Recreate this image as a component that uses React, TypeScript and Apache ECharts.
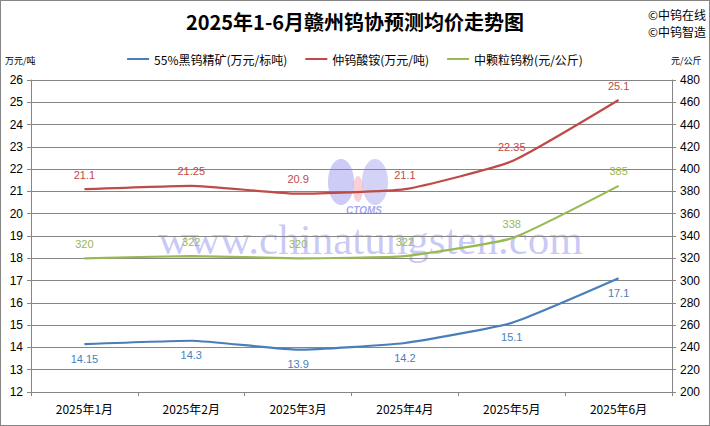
import React, { useEffect, useRef } from "react";
import * as echarts from "echarts";

const categories = ["2025年1月", "2025年2月", "2025年3月", "2025年4月", "2025年5月", "2025年6月"];
const concentrate = [14.15, 14.3, 13.9, 14.2, 15.1, 17.1];
const apt = [21.1, 21.25, 20.9, 21.1, 22.35, 25.1];
const powder = [320, 322, 320, 322, 338, 385];
const seriesNames = ["55%黑钨精矿(万元/标吨)", "仲钨酸铵(万元/吨)", "中颗粒钨粉(元/公斤)"];
const colors = ["#4A7EBB", "#BE4B48", "#98B954"];

const FONT = "'Liberation Sans', 'Noto Sans CJK SC', sans-serif";
const CJK = "'Noto Sans CJK SC', sans-serif";

export default function App() {
  const ref = useRef<HTMLDivElement>(null);
  useEffect(() => {
    if (!ref.current) return;
    const chart = echarts.init(ref.current, undefined, { renderer: "svg" });
    const labelStyle = (c: string, pos: string) => ({
      show: true,
      position: pos,
      distance: 9,
      color: c,
      fontSize: 11,
      fontFamily: FONT,
    });
    const mkSeries = (i: number, data: number[], axis: number, pos: string) => ({
      name: seriesNames[i],
      type: "line",
      data,
      yAxisIndex: axis,
      smooth: 0.15,
      symbol: "circle",
      symbolSize: 0.1,
      showSymbol: true,
      lineStyle: { color: colors[i], width: 2.2 },
      itemStyle: { color: colors[i] },
      label: labelStyle(colors[i], pos),
      z: 5,
    });
    chart.setOption({
      animation: false,
      backgroundColor: "#fff",
      textStyle: { fontFamily: FONT },
      title: {
        text: "2025年1-6月赣州钨协预测均价走势图",
        left: "center",
        top: 5,
        textStyle: { fontSize: 20, fontWeight: "bold", color: "#000", fontFamily: CJK },
      },
      legend: {
        top: 47,
        left: "center",
        itemWidth: 22,
        itemHeight: 2,
        itemGap: 18,
        icon: "rect",
        textStyle: { fontSize: 12, color: "#000", fontFamily: CJK },
        data: seriesNames,
      },
      grid: { left: 30, right: 37, top: 79, bottom: 33, containLabel: false },
      xAxis: {
        type: "category",
        data: categories,
        boundaryGap: true,
        axisLine: { lineStyle: { color: "#868686" } },
        axisTick: { show: true, inside: false, length: 4, lineStyle: { color: "#868686" } },
        axisLabel: { color: "#000", fontSize: 12, margin: 10, fontFamily: CJK },
      },
      yAxis: [
        {
          type: "value",
          min: 12,
          max: 26,
          interval: 1,
          axisLine: { show: true, lineStyle: { color: "#868686" } },
          axisTick: { show: true, length: 4, lineStyle: { color: "#868686" } },
          axisLabel: { color: "#000", fontSize: 12, margin: 8 },
          splitLine: { lineStyle: { color: "#868686", width: 1 } },
        },
        {
          type: "value",
          min: 200,
          max: 480,
          interval: 20,
          position: "right",
          axisLine: { show: true, lineStyle: { color: "#868686" } },
          axisTick: { show: true, length: 4, lineStyle: { color: "#868686" } },
          axisLabel: { color: "#000", fontSize: 12, margin: 8 },
          splitLine: { show: false },
        },
      ],
      graphic: [
        { type: "text", left: 647, top: 7, style: { text: "©中钨在线", fill: "#000", font: "12px 'Noto Sans CJK SC'" } },
        { type: "text", left: 647, top: 24, style: { text: "©中钨智造", fill: "#000", font: "12px 'Noto Sans CJK SC'" } },
        { type: "text", left: 4, top: 55, style: { text: "万元/吨", font: "9px 'Noto Sans CJK SC'", fill: "#000" } },
        { type: "text", left: 670, top: 55, style: { text: "元/公斤", font: "9px 'Noto Sans CJK SC'", fill: "#000" } },
        {
          type: "ellipse",
          shape: { cx: 340, cy: 181, rx: 13, ry: 23 },
          style: { fill: "rgba(110,110,230,0.35)" },
          z: 0,
        },
        {
          type: "ellipse",
          shape: { cx: 374, cy: 181, rx: 13, ry: 23 },
          style: { fill: "rgba(110,110,230,0.3)" },
          z: 0,
        },
        {
          type: "ellipse",
          shape: { cx: 357, cy: 188, rx: 5, ry: 13 },
          style: { fill: "rgba(240,120,140,0.35)" },
          z: 0,
        },
        {
          type: "text",
          left: 345,
          top: 204,
          style: { text: "CTOMS", font: "italic bold 10px 'Liberation Sans'", fill: "rgba(90,90,220,0.55)" },
          z: 0,
        },
        {
          type: "text",
          left: 157,
          top: 217,
          style: {
            text: "www.chinatungsten.com",
            font: "43px 'Liberation Serif', 'DejaVu Serif', serif",
            fill: "rgba(100,100,235,0.35)",
          },
          z: 0,
        },
      ],
      series: [
        mkSeries(0, concentrate, 0, "bottom"),
        mkSeries(1, apt, 0, "top"),
        mkSeries(2, powder, 1, "top"),
      ],
    });
    return () => chart.dispose();
  }, []);
  return (
    <div
      style={{
        position: "fixed",
        left: 0,
        top: 0,
        width: 710,
        height: 426,
        boxSizing: "border-box",
        border: "1px solid #868686",
      }}
    >
      <div ref={ref} style={{ width: 708, height: 424 }} />
    </div>
  );
}
